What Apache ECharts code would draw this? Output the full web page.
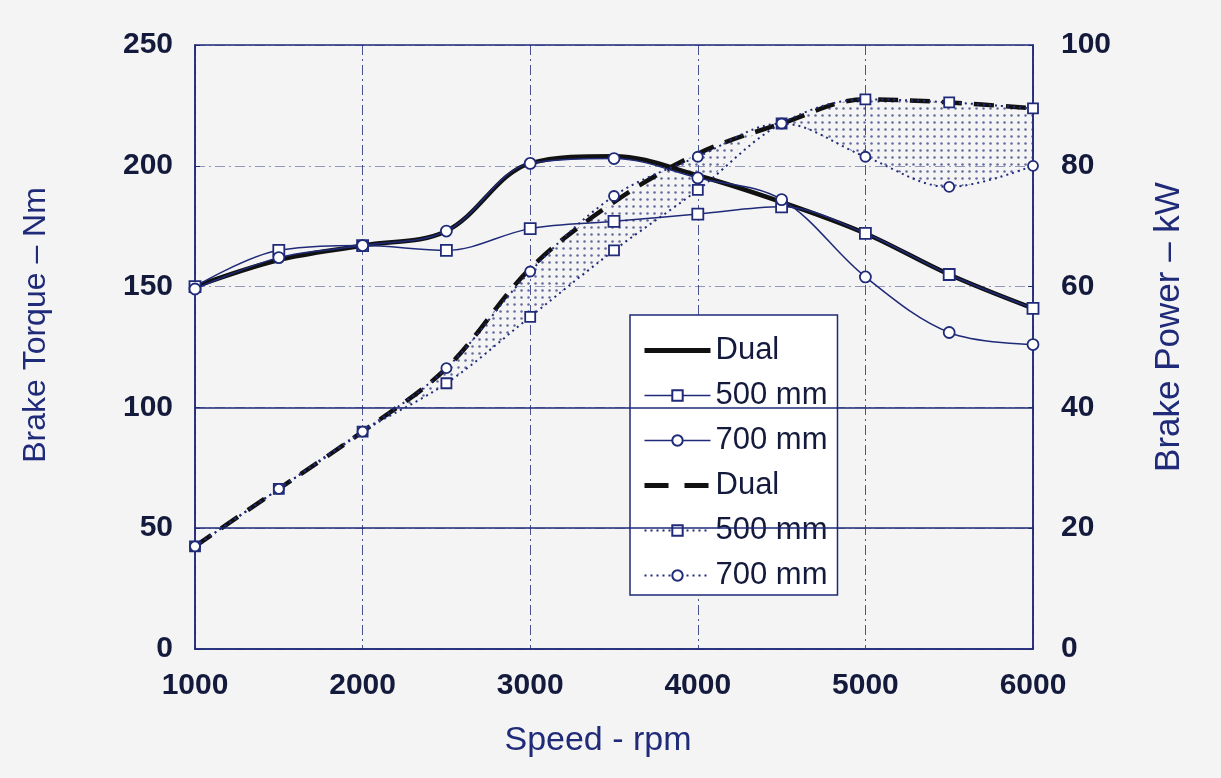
<!DOCTYPE html>
<html>
<head>
<meta charset="utf-8">
<script src="https://cdn.jsdelivr.net/npm/echarts@6/dist/echarts.min.js"></script>
<style>
html, body { margin: 0; padding: 0; background: #f4f4f4; }
#chart { width: 1221px; height: 778px; }
</style>
</head>
<body>
<div id="chart"></div>
<script>
// engine speed, rpm
const speeds = [1000, 1500, 2000, 2500, 3000, 3500, 4000, 4500, 5000, 5500, 6000]
// brake torque, Nm (left axis)
const torqueDual = [150, 161, 167, 173, 201, 204, 196, 185, 172, 155, 141]
const torque500 = [150, 165, 167, 165, 174, 177, 180, 183, 172, 155, 141]
const torque700 = [149, 162, 167, 173, 201, 203, 195, 186, 154, 131, 126]
// brake power, kW (right axis)
const powerDual = [17, 26.5, 36, 46.5, 63, 74, 82, 87, 91, 90.5, 89.5]
const power500 = [17, 26.5, 36, 44, 55, 66, 76, 87, 91, 90.5, 89.5]
const power700 = [17, 26.5, 36, 46.5, 62.5, 75, 81.5, 87, 81.5, 76.5, 80]
// tick labels
const speedTicks = [1000, 2000, 3000, 4000, 5000, 6000]
const torqueTicks = [0, 50, 100, 150, 200, 250]
const powerTicks = [0, 20, 40, 60, 80, 100]

const navy = '#1f2a78'
const ink = '#141a3c'

// lower edge of the shaded band = weaker of the two fixed runners
const bandBase = speeds.map((s, i) => Math.min(power500[i], power700[i]))
const bandTop = speeds.map((s, i) => powerDual[i] - bandBase[i])

// dotted fill like the scanned figure
const dots = document.createElement('canvas')
dots.width = 7
dots.height = 7
const g = dots.getContext('2d')
g.fillStyle = 'rgba(35,45,120,0.7)'
g.beginPath()
g.arc(3.5, 3.5, 1.25, 0, Math.PI * 2)
g.fill()

const tickFont = { fontFamily: 'Liberation Sans', fontWeight: 'bold', fontSize: 30, color: ink }
const dashDot = [10, 4, 2, 4]
const onTick = (i, v) => speedTicks.indexOf(+v) >= 0

const option = {
  backgroundColor: '#f4f4f4',
  animation: false,
  grid: { left: 195, right: 188, top: 45, bottom: 129, show: true, borderColor: navy, borderWidth: 1.5 },
  legend: {
    data: [
      { name: 'Dual|T', itemStyle: { opacity: 0 }, lineStyle: { width: 5 } },
      { name: '500 mm|T', lineStyle: { width: 1.5 } },
      { name: '700 mm|T', lineStyle: { width: 1.5 } },
      { name: 'Dual|P', itemStyle: { opacity: 0 }, lineStyle: { width: 5, type: [24, 16] } },
      { name: '500 mm|P', lineStyle: { width: 2, type: [2, 4] } },
      { name: '700 mm|P', lineStyle: { width: 2, type: [2, 4] } }
    ],
    formatter: name => name.split('|')[0],
    orient: 'vertical',
    left: 630,
    top: 315,
    itemWidth: 66,
    itemHeight: 13,
    itemGap: 14,
    padding: [20, 10, 4, 12],
    backgroundColor: '#ffffff',
    borderColor: navy,
    borderWidth: 1.5,
    textStyle: { fontFamily: 'Liberation Sans', fontSize: 31, color: ink }
  },
  xAxis: {
    type: 'category',
    boundaryGap: false,
    data: speeds.map(String),
    name: 'Speed - rpm',
    nameLocation: 'middle',
    nameGap: 75,
    nameTextStyle: { fontFamily: 'Liberation Sans', fontSize: 34, color: navy, padding: [0, 32, 0, 0] },
    axisLine: { lineStyle: { color: navy, width: 1.5 } },
    axisTick: { show: false },
    axisLabel: Object.assign({ margin: 22, interval: onTick }, tickFont),
    splitLine: { show: true, interval: onTick, lineStyle: { color: navy, width: 1, type: dashDot, opacity: 0.8 } }
  },
  yAxis: [
    {
      type: 'value',
      min: torqueTicks[0],
      max: torqueTicks[torqueTicks.length - 1],
      interval: 50,
      name: 'Brake Torque – Nm',
      nameLocation: 'middle',
      nameGap: 143,
      nameTextStyle: { fontFamily: 'Liberation Sans', fontSize: 32, color: navy, padding: [0, 0, 0, 44] },
      axisLine: { show: true, lineStyle: { color: navy, width: 1.5 } },
      axisTick: { show: true, inside: true, length: 5, lineStyle: { color: navy } },
      axisLabel: Object.assign({ margin: 22 }, tickFont),
      splitLine: { show: true, lineStyle: { color: navy, width: 1, type: dashDot, opacity: 0.45 } }
    },
    {
      type: 'value',
      min: powerTicks[0],
      max: powerTicks[powerTicks.length - 1],
      interval: 20,
      name: 'Brake Power – kW',
      nameLocation: 'middle',
      nameGap: 119,
      nameTextStyle: { fontFamily: 'Liberation Sans', fontSize: 35, color: navy, padding: [0, 0, 0, 40] },
      axisLine: { show: true, lineStyle: { color: navy, width: 1.5 } },
      axisTick: { show: true, inside: true, length: 5, lineStyle: { color: navy } },
      axisLabel: Object.assign({ margin: 28 }, tickFont),
      splitLine: { show: false }
    }
  ],
  series: [
    {
      name: 'band base',
      type: 'line',
      yAxisIndex: 1,
      stack: 'band',
      smooth: 0.35,
      symbol: 'none',
      lineStyle: { opacity: 0 },
      data: bandBase,
      z: 1,
      silent: true
    },
    {
      name: 'band',
      type: 'line',
      yAxisIndex: 1,
      stack: 'band',
      smooth: 0.35,
      symbol: 'none',
      lineStyle: { opacity: 0 },
      areaStyle: { color: { image: dots, repeat: 'repeat' }, opacity: 1 },
      data: bandTop,
      z: 1,
      silent: true
    },
    {
      name: 'Dual|T',
      type: 'line',
      smooth: 0.35,
      symbol: 'none',
      lineStyle: { color: '#111111', width: 4.5 },
      itemStyle: { color: '#111111' },
      data: torqueDual,
      z: 4,
      markLine: {
        silent: true,
        symbol: 'none',
        label: { show: false },
        lineStyle: { color: navy, width: 1.5, type: 'solid' },
        data: [{ yAxis: 50 }, { yAxis: 100 }]
      }
    },
    {
      name: '500 mm|T',
      type: 'line',
      smooth: 0.35,
      symbol: 'rect',
      symbolSize: 11,
      lineStyle: { color: navy, width: 1.5 },
      itemStyle: { color: '#ffffff', borderColor: navy, borderWidth: 1.8 },
      data: torque500,
      z: 5
    },
    {
      name: '700 mm|T',
      type: 'line',
      smooth: 0.35,
      symbol: 'circle',
      symbolSize: 11,
      lineStyle: { color: navy, width: 1.5 },
      itemStyle: { color: '#ffffff', borderColor: navy, borderWidth: 1.8 },
      data: torque700,
      z: 5
    },
    {
      name: 'Dual|P',
      type: 'line',
      yAxisIndex: 1,
      smooth: 0.35,
      symbol: 'none',
      lineStyle: { color: '#111111', width: 4.5, type: [20, 12] },
      itemStyle: { color: '#111111' },
      data: powerDual,
      z: 4
    },
    {
      name: '500 mm|P',
      type: 'line',
      yAxisIndex: 1,
      smooth: 0.35,
      symbol: 'rect',
      symbolSize: 10,
      lineStyle: { color: navy, width: 2, type: [2, 4] },
      itemStyle: { color: '#ffffff', borderColor: navy, borderWidth: 1.8 },
      data: power500,
      z: 5
    },
    {
      name: '700 mm|P',
      type: 'line',
      yAxisIndex: 1,
      smooth: 0.35,
      symbol: 'circle',
      symbolSize: 10,
      lineStyle: { color: navy, width: 2, type: [2, 4] },
      itemStyle: { color: '#ffffff', borderColor: navy, borderWidth: 1.8 },
      data: power700,
      z: 5
    }
  ]
}

const chart = echarts.init(document.getElementById('chart'))
chart.setOption(option)
</script>
</body>
</html>
